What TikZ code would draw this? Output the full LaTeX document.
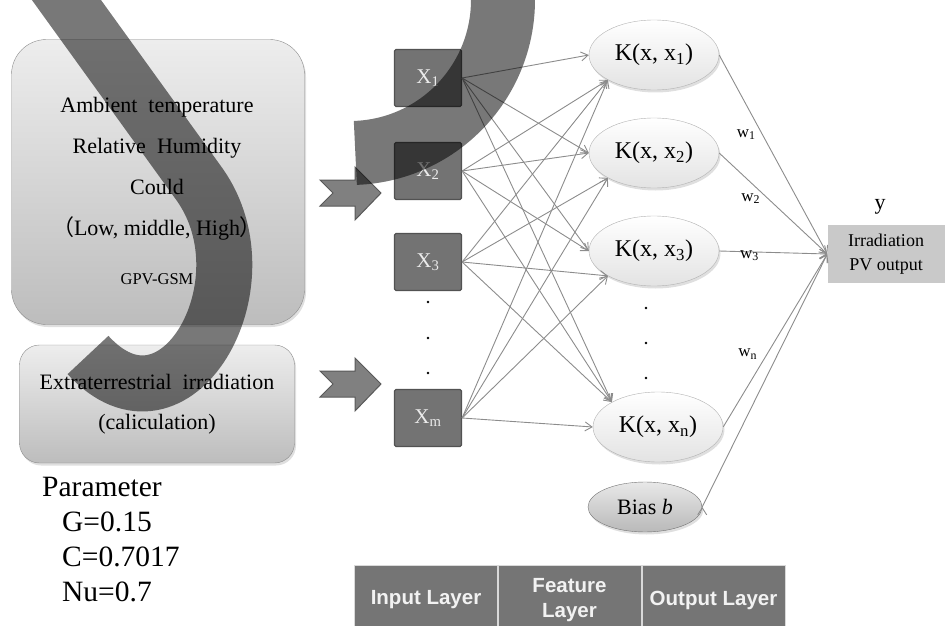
\documentclass[tikz,border=0pt]{standalone}
\usepackage{fontspec}
\setmainfont{Liberation Serif}
\setsansfont{Liberation Sans}
\newfontfamily\cjk{Noto Sans CJK SC}
\usetikzlibrary{positioning,shapes.geometric,shadows,arrows.meta}

\begin{document}
\begin{tikzpicture}[x=1pt,y=-1pt,on grid,
  >={Straight Barb[length=7pt,width=9pt]},
  softshadow/.style={drop shadow={opacity=0.25,shadow xshift=1.5pt,shadow yshift=-2.5pt}},
  envbox/.style={draw=gray!90,rounded corners=35pt,top color=gray!14,bottom color=gray!52,softshadow},
  inbox/.style={draw=black!68,line width=1.2pt,fill=black!55,rounded corners=1.5pt,
    minimum width=67pt,minimum height=57pt,text=black!8,font=\fontsize{21}{24}\selectfont},
  kernel/.style={ellipse,draw=gray!60,top color=white,bottom color=gray!22,softshadow,
    minimum width=130pt,minimum height=70pt,font=\fontsize{24}{26}\selectfont},
  biasnode/.style={ellipse,draw=black!55,top color=gray!18,bottom color=gray!55,softshadow,
    minimum width=114pt,minimum height=50pt,font=\fontsize{22}{24}\selectfont},
  wire/.style={draw=gray!90,line width=0.9pt},
  chevron/.style={draw=black!65,line width=1pt,fill=black!50},
  layer/.style={draw=gray!30,line width=1pt,fill=black!54,minimum width=143pt,minimum height=70pt,
    text=white!95!black,align=center,font=\sffamily\bfseries\fontsize{20.5}{25}\selectfont},
  band/.style={draw=black,draw opacity=0.53}]

\useasboundingbox (0,0) rectangle (946,626);

% inputs of the model
\node[envbox,minimum width=293pt,minimum height=285pt] (env) at (158,182) {};
\node[align=center,font=\fontsize{22}{41}\selectfont] (envtxt) at (157,191)
  {Ambient\enspace temperature\\Relative\enspace Humidity\\Could\\{\cjk （}Low, middle, High{\cjk ）}\\[8pt]{\fontsize{16.5}{20}\selectfont GPV-GSM}};
\node[envbox,rounded corners=20pt,minimum width=275pt,minimum height=118pt,align=center,
  font=\fontsize{22}{40}\selectfont] (calc) at (157,404) {Extraterrestrial\enspace irradiation\\(caliculation)};
\node[anchor=north west,inner sep=0pt,align=left,font=\fontsize{29.5}{35}\selectfont] (param) at (42,477)
  {Parameter\\\hspace*{20pt}G=0.15\\\hspace*{20pt}C=0.7017\\\hspace*{20pt}Nu=0.7};

\foreach \y in {193,384}
  \draw[chevron] (320,\y-13) -- (355,\y-13) -- (355,\y-26) -- (381,\y) -- (355,\y+27)
    -- (355,\y+13) -- (320,\y+13) -- (333,\y) -- cycle;

% input layer
\node[inbox] (X1) at (428,78) {X\textsubscript{1}};
\node[inbox] (X2) [below=93pt of X1] {X\textsubscript{2}};
\node[inbox] (X3) [below=91pt of X2] {X\textsubscript{3}};
\node[inbox] (Xm) [below=156pt of X3] {X\textsubscript{m}};
\foreach \y in {302,338,373} \fill (428,\y) circle (1.3pt);

% feature layer
\node[kernel] (K1) at (654,55) {K(x, x\textsubscript{1})};
\node[kernel] (K2) [below=98pt of K1] {K(x, x\textsubscript{2})};
\node[kernel] (K3) [below=98pt of K2] {K(x, x\textsubscript{3})};
\node[kernel] (Kn) at (658,427) {K(x, x\textsubscript{n})};
\node[biasnode] (bias) at (645,507) {Bias \textit{b}};
\foreach \y in {308,343,378} \fill (646,\y) circle (1.3pt);

% output layer
\node[fill=gray!42,minimum width=117pt,minimum height=58pt,align=center,
  font=\fontsize{18}{24}\selectfont] (out) at (886,254) {Irradiation\\PV output};
\node[font=\fontsize{22}{24}\selectfont] (ylab) [above=47pt of out,xshift=-6pt] {y};

\foreach \i/\j/\a in {1/1/west,1/2/west,1/3/west,1/n/north west,
    2/1/south west,2/2/west,2/3/west,2/n/north west,
    3/1/south west,3/2/south west,3/3/south west,3/n/north west,
    m/1/south west,m/2/south west,m/3/south west,m/n/west}
  \draw[wire,->] (X\i.east) -- (K\j.\a);

\path[wire,->,font=\fontsize{17}{20}\selectfont]
  (K1.east) edge node[pos=0.4,left=3pt] {w\textsubscript{1}} (out.west)
  (K2.east) edge node[pos=0.45,left=4pt] {w\textsubscript{2}} (out.west)
  (K3.east) edge node[pos=0.28,yshift=-4pt] {w\textsubscript{3}} (out.west)
  (Kn.east) edge node[pos=0.42,left=6pt] {w\textsubscript{n}} (out.west)
  (bias.east) edge (out.west);

\begin{scope}
\clip (0,0) rectangle (946,626);
% layer names
\node[layer] (inlay) at (426,600) {Input Layer};
\node[layer] (featlay) [right=143.5pt of inlay] {Feature\\Layer};
\node[layer] (outlay) [right=144pt of featlay] {Output Layer};
% strokes over the picture
\draw[band,line width=56pt] (52,-20) -- (200,185) .. controls (270,285) and (175,450) .. (88,355);
\draw[band,line width=64pt] (350,0) ++(-20:153) arc[start angle=-20,end angle=88,radius=153];
\end{scope}
\end{tikzpicture}
\end{document}
